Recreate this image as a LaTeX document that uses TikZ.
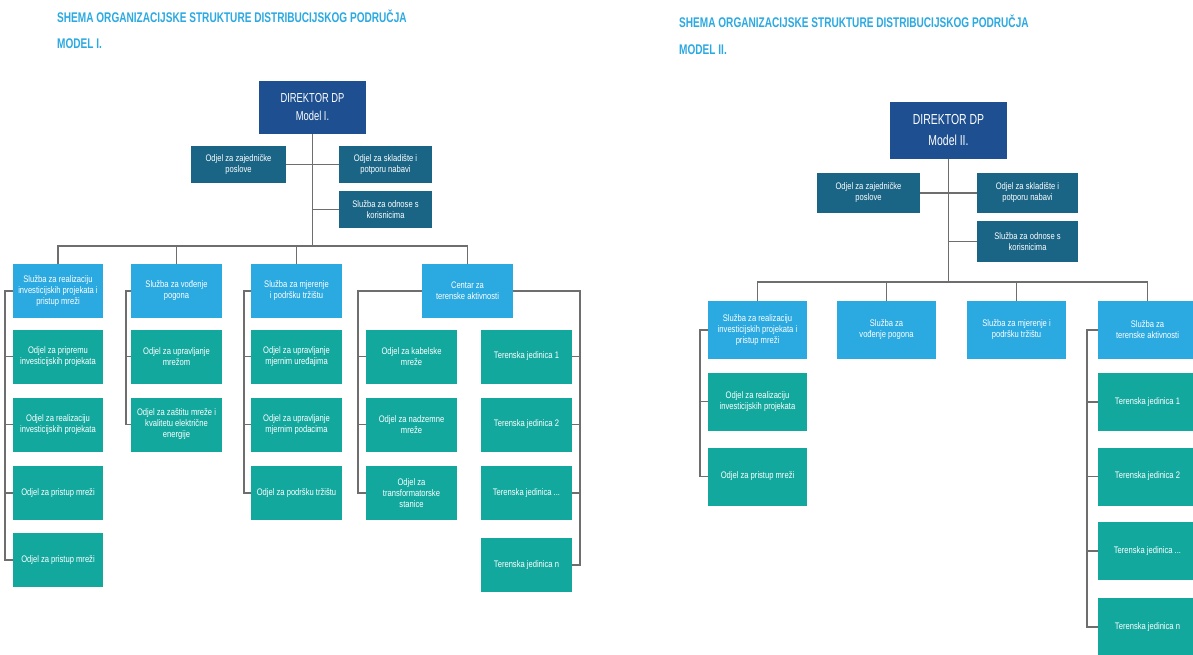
\documentclass[tikz,border=0pt]{standalone}
\usepackage{fontspec}
\setmainfont{Liberation Sans}
\newfontfamily\cnd[FakeStretch=0.8]{Liberation Sans}
\newfontfamily\cndt[FakeStretch=0.72]{Liberation Sans}
\definecolor{navy}{HTML}{1D4F91}
\definecolor{dteal}{HTML}{1A6585}
\definecolor{lblue}{HTML}{2BA9E1}
\definecolor{teal}{HTML}{13A89E}
\definecolor{lineg}{HTML}{6E6E6E}
\definecolor{ttl}{HTML}{2BA9E1}
\begin{document}
\begin{tikzpicture}[x=1pt,y=-1pt,
  ln/.style={draw=lineg, line width=1.6pt},
  bx/.style={inner sep=1pt, align=center, text=white, font=\cnd\fontsize{9.5}{11}\selectfont},
  dir/.style={bx, fill=navy, font=\cndt\fontsize{13}{18}\selectfont},
  dirB/.style={bx, fill=navy, font=\cndt\fontsize{14.5}{21}\selectfont},
  dk/.style={bx, fill=dteal},
  sv/.style={bx, fill=lblue},
  ch/.style={bx, fill=teal},
  ttlstyle/.style={anchor=base west, inner sep=0pt, text=ttl, font=\cndt\bfseries\fontsize{14}{16}\selectfont}
]
\useasboundingbox (0,0) rectangle (1193,655);
\clip (0,0) rectangle (1193,655);

% ---------- titles ----------
\node[ttlstyle] (t1) at (57,23) {SHEMA ORGANIZACIJSKE STRUKTURE DISTRIBUCIJSKOG PODRUČJA};
\node[ttlstyle] (t1b) at (57,49) {MODEL I.};
\node[ttlstyle] (t2) at (679,28) {SHEMA ORGANIZACIJSKE STRUKTURE DISTRIBUCIJSKOG PODRUČJA};
\node[ttlstyle] (t2b) at (679,55) {MODEL II.};

% ---------- Model I ----------
\node[dir, minimum width=107pt, minimum height=53pt] (d1) at (312.5,107.5) {DIREKTOR DP\\Model I.};
\node[dk, minimum width=95pt, minimum height=37pt] (z1) at (238.5,164.5) {Odjel za zajedničke\\poslove};
\node[dk, minimum width=93pt, minimum height=37pt] (s1) at (385.5,164.5) {Odjel za skladište i\\potporu nabavi};
\node[dk, minimum width=93pt, minimum height=37pt] (k1) at (385.5,209.5) {Služba za odnose s\\korisnicima};

\begin{scope}[every node/.append style={minimum height=54pt}]
\node[sv, minimum width=90pt] (A1) at (58,291) {Služba za realizaciju\\investicijskih projekata i\\pristup mreži};
\node[ch, minimum width=90pt] (A1a) at (58,356.5) {Odjel za pripremu\\investicijskih projekata};
\node[ch, minimum width=90pt] (A1b) at (58,424.5) {Odjel za realizaciju\\investicijskih projekata};
\node[ch, minimum width=90pt] (A1c) at (58,493) {Odjel za pristup mreži};
\node[ch, minimum width=90pt] (A1d) at (58,560) {Odjel za pristup mreži};

\node[sv, minimum width=91pt] (B1) at (176.5,291) {Služba za vođenje\\pogona};
\node[ch, minimum width=91pt] (B1a) at (176.5,356.5) {Odjel za upravljanje\\mrežom};
\node[ch, minimum width=91pt] (B1b) at (176.5,424.5) {Odjel za zaštitu mreže i\\kvalitetu električne\\energije};

\node[sv, minimum width=91pt] (C1) at (296.5,291) {Služba za mjerenje\\i podršku tržištu};
\node[ch, minimum width=91pt] (C1a) at (296.5,356.5) {Odjel za upravljanje\\mjernim uređajima};
\node[ch, minimum width=91pt] (C1b) at (296.5,424.5) {Odjel za upravljanje\\mjernim podacima};
\node[ch, minimum width=91pt] (C1c) at (296.5,493) {Odjel za podršku tržištu};

\node[sv, minimum width=91pt] (D1) at (467.5,291) {Centar za\\terenske aktivnosti};
\node[ch, minimum width=91pt] (D1a) at (411.5,356.5) {Odjel za kabelske\\mreže};
\node[ch, minimum width=91pt] (D1b) at (411.5,424.5) {Odjel za nadzemne\\mreže};
\node[ch, minimum width=91pt] (D1c) at (411.5,493) {Odjel za\\transformatorske\\stanice};
\node[ch, minimum width=91pt] (T1a) at (526.5,356.5) {Terenska jedinica 1};
\node[ch, minimum width=91pt] (T1b) at (526.5,424.5) {Terenska jedinica 2};
\node[ch, minimum width=91pt] (T1c) at (526.5,493) {Terenska jedinica ...};
\node[ch, minimum width=91pt] (T1d) at (526.5,565) {Terenska jedinica n};
\end{scope}

\coordinate (bus1) at (312.5,246);
\draw[ln] (d1.south) -- (bus1);
\draw[ln] (z1.east) -- (s1.west);
\draw[ln] (k1.west) -- (k1.west -| d1.south);
\draw[ln] (A1.north) |- (bus1) -| (D1.north);
\draw[ln] (B1.north) -- (B1.north |- bus1);
\draw[ln] (C1.north) -- (C1.north |- bus1);

\draw[ln] (A1.west) -| ([xshift=-8pt]A1d.west) -- (A1d.west);
\draw[ln] (A1a.west) -- ++(-8,0);
\draw[ln] (A1b.west) -- ++(-8,0);
\draw[ln] (A1c.west) -- ++(-8,0);
\draw[ln] (B1.west) -| ([xshift=-5pt]B1b.west) -- (B1b.west);
\draw[ln] (B1a.west) -- ++(-5,0);
\draw[ln] (C1.west) -| ([xshift=-7pt]C1c.west) -- (C1c.west);
\draw[ln] (C1a.west) -- ++(-7,0);
\draw[ln] (C1b.west) -- ++(-7,0);
\draw[ln] (D1.west) -| ([xshift=-8pt]D1c.west) -- (D1c.west);
\draw[ln] (D1a.west) -- ++(-8,0);
\draw[ln] (D1b.west) -- ++(-8,0);
\draw[ln] (D1.east) -| ([xshift=8pt]T1d.east) -- (T1d.east);
\draw[ln] (T1a.east) -- ++(8,0);
\draw[ln] (T1b.east) -- ++(8,0);
\draw[ln] (T1c.east) -- ++(8,0);

% ---------- Model II ----------
\node[dirB, minimum width=117pt, minimum height=57pt] (d2) at (948.5,130.5) {DIREKTOR DP\\Model II.};
\node[dk, minimum width=103pt, minimum height=40pt] (z2) at (868.5,193) {Odjel za zajedničke\\poslove};
\node[dk, minimum width=101pt, minimum height=40pt] (s2) at (1027.5,193) {Odjel za skladište i\\potporu nabavi};
\node[dk, minimum width=101pt, minimum height=41pt] (k2) at (1027.5,241.5) {Služba za odnose s\\korisnicima};

\begin{scope}[every node/.append style={minimum height=58pt, minimum width=99pt}]
\node[sv] (A2) at (757.5,330) {Služba za realizaciju\\investicijskih projekata i\\pristup mreži};
\node[ch] (A2a) at (757.5,401.5) {Odjel za realizaciju\\investicijskih projekata};
\node[ch] (A2b) at (757.5,476.5) {Odjel za pristup mreži};
\node[sv] (B2) at (886.5,330) {Služba za\\vođenje pogona};
\node[sv] (C2) at (1016.5,330) {Služba za mjerenje i\\podršku tržištu};
\node[sv] (D2) at (1147.5,330) {Služba za\\terenske aktivnosti};
\node[ch] (T2a) at (1147.5,402) {Terenska jedinica 1};
\node[ch] (T2b) at (1147.5,476.5) {Terenska jedinica 2};
\node[ch] (T2c) at (1147.5,551) {Terenska jedinica ...};
\node[ch] (T2d) at (1147.5,627) {Terenska jedinica n};
\end{scope}

\coordinate (bus2) at (948.5,282);
\draw[ln] (d2.south) -- (bus2);
\draw[ln] (z2.east) -- (s2.west);
\draw[ln] (k2.west) -- (k2.west -| d2.south);
\draw[ln] (A2.north) |- (bus2) -| (D2.north);
\draw[ln] (B2.north) -- (B2.north |- bus2);
\draw[ln] (C2.north) -- (C2.north |- bus2);
\draw[ln] (A2.west) -| ([xshift=-8pt]A2b.west) -- (A2b.west);
\draw[ln] (A2a.west) -- ++(-8,0);
\draw[ln] (D2.west) -| ([xshift=-11pt]T2d.west) -- (T2d.west);
\draw[ln] (T2a.west) -- ++(-11,0);
\draw[ln] (T2b.west) -- ++(-11,0);
\draw[ln] (T2c.west) -- ++(-11,0);
\end{tikzpicture}
\end{document}
